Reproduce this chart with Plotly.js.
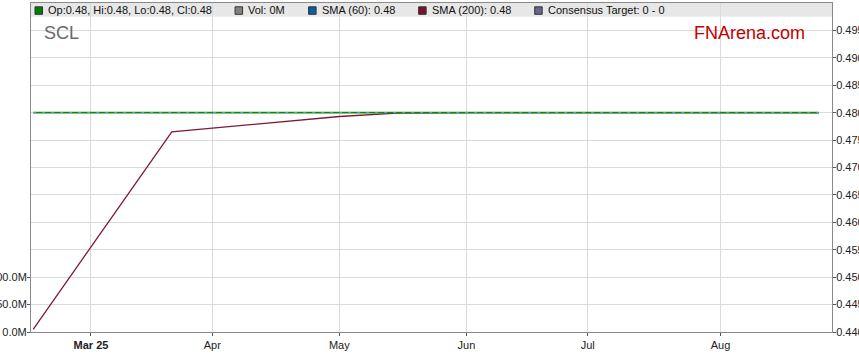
<!DOCTYPE html>
<html>
<head>
<meta charset="utf-8">
<script src="https://cdn.plot.ly/plotly-3.0.1.min.js"></script>
<style>
html,body{margin:0;padding:0;background:#fff;}
#chart{width:859px;height:363px;}
</style>
</head>
<body>
<div id="chart"></div>
<script>
// ---- data ----
var closeDates = ['2025-02-17', '2025-08-26'];
var closeValues = [0.48, 0.48];
var sma60Dates = ['2025-02-17', '2025-08-26'];
var sma60Values = [0.48, 0.48];
var sma200Dates = ['2025-02-17', '2025-03-21', '2025-05-01', '2025-05-15', '2025-06-02', '2025-08-26'];
var sma200Values = [0.4405, 0.4765, 0.4793, 0.4799, 0.48, 0.48];
var volumeDates = ['2025-02-17', '2025-08-26'];
var volumeValues = [0, 0];
var monthTickDates = ['2025-03-03', '2025-04-01', '2025-05-01', '2025-06-02', '2025-07-01', '2025-08-01'];
var monthTickLabels = ['<b>Mar 25</b>', 'Apr', 'May', 'Jun', 'Jul', 'Aug'];
var priceTicks = [0.440, 0.445, 0.450, 0.455, 0.460, 0.465, 0.470, 0.475, 0.480, 0.485, 0.490, 0.495];
var volTicks = [0, 50e6, 100e6];
var volTickLabels = ['0.0M', '50.0M', '100.0M'];
var legendItems = [
  {label: 'Op:0.48, Hi:0.48, Lo:0.48, Cl:0.48', color: '#008000'},
  {label: 'Vol: 0M', color: '#808080'},
  {label: 'SMA (60): 0.48', color: '#0b5fa0'},
  {label: 'SMA (200): 0.48', color: '#7d0f2e'},
  {label: 'Consensus Target: 0 - 0', color: '#66668a'}
];

// ---- layout helpers (pixel -> paper) ----
var L = 31, R = 831.7, T = 3, B = 332;
function px(x){ return (x - L) / (R - L); }
function py(y){ return (B - y) / (B - T); }
var legendX = [35, 235, 308.5, 418.5, 534.5];

var FONT = 'Liberation Sans, Arial, sans-serif';

var traces = [
  {x: volumeDates, y: volumeValues, type: 'bar', yaxis: 'y2', marker: {color: '#808080'}, hoverinfo: 'skip', showlegend: false},
  {x: sma200Dates, y: sma200Values, type: 'scatter', mode: 'lines', line: {color: '#7d1a3c', width: 1.3}, showlegend: false},
  {x: closeDates, y: closeValues, type: 'scatter', mode: 'lines', line: {color: '#0a8a0a', width: 1.8}, showlegend: false},
  {x: sma60Dates, y: sma60Values, type: 'scatter', mode: 'lines', line: {color: '#6fa0d0', width: 1, dash: '3px,6px'}, showlegend: false}
];

var shapes = [
  {type: 'rect', xref: 'paper', yref: 'paper', x0: 0, x1: 1, y0: py(16.7), y1: 1, fillcolor: '#e7e7e7', line: {width: 0}, layer: 'below'}
];
var annotations = [
  {xref: 'paper', yref: 'paper', x: px(42), y: py(33), xanchor: 'left', yanchor: 'middle', text: 'SCL', showarrow: false, font: {family: FONT, size: 18, color: '#6a6a6a'}},
  {xref: 'paper', yref: 'paper', x: px(692), y: py(32.5), xanchor: 'left', yanchor: 'middle', text: 'FNArena.com', showarrow: false, font: {family: FONT, size: 18, color: '#c40000'}}
];
legendItems.forEach(function(it, i){
  var x0 = legendX[i];
  shapes.push({type: 'rect', xref: 'paper', yref: 'paper', x0: px(x0), x1: px(x0 + 7.5), y0: py(14.3), y1: py(6.8), fillcolor: it.color, line: {color: '#333', width: 1}, layer: 'above'});
  annotations.push({xref: 'paper', yref: 'paper', x: px(x0 + 11), y: py(10.5), xanchor: 'left', yanchor: 'middle', text: it.label, showarrow: false, font: {family: FONT, size: 11, color: '#111'}});
});

var layout = {
  width: 859, height: 363,
  margin: {l: L, r: 859 - R, t: T, b: 363 - B, pad: 0},
  paper_bgcolor: '#ffffff', plot_bgcolor: '#ffffff',
  showlegend: false,
  font: {family: FONT, size: 11, color: '#222'},
  xaxis: {
    type: 'date',
    range: ['2025-02-14 15:00', '2025-08-28 07:00'],
    rangebreaks: [{bounds: ['sat', 'mon']}],
    tickmode: 'array', tickvals: monthTickDates, ticktext: monthTickLabels,
    ticks: 'outside', ticklen: 3, tickcolor: '#555',
    showgrid: true, gridcolor: '#dadada', gridwidth: 1,
    showline: true, linecolor: '#8a8a8a', linewidth: 1, mirror: true,
    zeroline: false, tickfont: {family: FONT, size: 11, color: '#222'}
  },
  yaxis: {
    side: 'right', range: [0.44, 0.50],
    tickmode: 'array', tickvals: priceTicks, ticktext: priceTicks.map(function(v){return v.toFixed(3);}),
    ticks: 'outside', ticklen: 3, tickcolor: '#555', ticklabelstandoff: -2,
    showgrid: true, gridcolor: '#dadada', gridwidth: 1,
    showline: true, linecolor: '#8a8a8a', linewidth: 1,
    zeroline: false, tickfont: {family: FONT, size: 11, color: '#222'}
  },
  yaxis2: {
    side: 'left', overlaying: 'y', range: [0, 50e6 * (B - T) / 27.4],
    tickmode: 'array', tickvals: volTicks, ticktext: volTickLabels,
    ticks: 'outside', ticklen: 3, tickcolor: '#555', ticklabelstandoff: -2,
    showgrid: false, showline: true, linecolor: '#8a8a8a', linewidth: 1,
    zeroline: false, tickfont: {family: FONT, size: 11, color: '#222'}
  },
  shapes: shapes,
  annotations: annotations
};

Plotly.newPlot('chart', traces, layout, {displayModeBar: false, staticPlot: true});
</script>
</body>
</html>
